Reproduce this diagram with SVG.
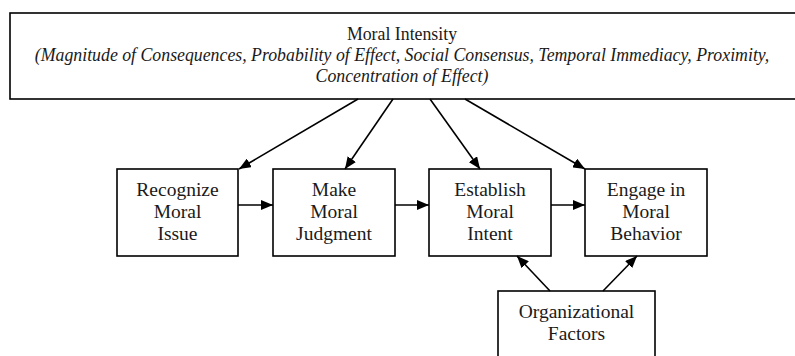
<svg xmlns="http://www.w3.org/2000/svg" width="795" height="356" viewBox="0 0 795 356">
<style>
.box{fill:#fff;stroke:#000;stroke-width:1.6}
.t{font-family:'Liberation Serif','Times New Roman',serif;font-size:19.5px;fill:#1a1a1a;text-anchor:middle}
.ti{font-family:'Liberation Serif','Times New Roman',serif;font-size:17.8px;fill:#1a1a1a;text-anchor:middle}
.it{font-style:italic}
.c{stroke:#000;stroke-width:1.6;fill:none;marker-end:url(#ah)}
</style>
<defs>
<marker id="ah" viewBox="0 0 12 10" refX="12" refY="5" markerWidth="12" markerHeight="10" markerUnits="userSpaceOnUse" orient="auto">
<path d="M0,0 L12,5 L0,10 z" fill="#000"/>
</marker>
</defs>
<rect width="795" height="356" fill="#fff"/>
<g id="moral-intensity">
<rect class="box" x="10" y="13" width="786" height="86"/>
<text class="ti" x="402" y="40">Moral Intensity</text>
<text class="ti it" x="402" y="61">(Magnitude of Consequences, Probability of Effect, Social Consensus, Temporal Immediacy, Proximity,</text>
<text class="ti it" x="402" y="82">Concentration of Effect)</text>
</g>
<g id="recognize">
<rect class="box" x="117" y="169" width="121" height="87"/>
<text class="t" x="177.5" y="196">Recognize</text>
<text class="t" x="177.5" y="218">Moral</text>
<text class="t" x="177.5" y="240">Issue</text>
</g>
<g id="judgment">
<rect class="box" x="273" y="169" width="122" height="87"/>
<text class="t" x="334" y="196">Make</text>
<text class="t" x="334" y="218">Moral</text>
<text class="t" x="334" y="240">Judgment</text>
</g>
<g id="intent">
<rect class="box" x="429" y="169" width="122" height="87"/>
<text class="t" x="490" y="196">Establish</text>
<text class="t" x="490" y="218">Moral</text>
<text class="t" x="490" y="240">Intent</text>
</g>
<g id="behavior">
<rect class="box" x="585" y="169" width="122" height="87"/>
<text class="t" x="646" y="196">Engage in</text>
<text class="t" x="646" y="218">Moral</text>
<text class="t" x="646" y="240">Behavior</text>
</g>
<g id="org">
<rect class="box" x="498" y="291" width="157" height="80"/>
<text class="t" x="576.5" y="318">Organizational</text>
<text class="t" x="576.5" y="340">Factors</text>
</g>
<g id="connectors">
<line class="c" x1="358" y1="99" x2="239" y2="169"/>
<line class="c" x1="393" y1="99" x2="345" y2="169"/>
<line class="c" x1="430" y1="99" x2="480" y2="169"/>
<line class="c" x1="465" y1="99" x2="585" y2="169"/>
<line class="c" x1="238" y1="205" x2="273" y2="205"/>
<line class="c" x1="395" y1="205" x2="429" y2="205"/>
<line class="c" x1="551" y1="205" x2="585" y2="205"/>
<line class="c" x1="550" y1="291" x2="517" y2="256"/>
<line class="c" x1="603" y1="291" x2="637" y2="256"/>
</g>
</svg>
